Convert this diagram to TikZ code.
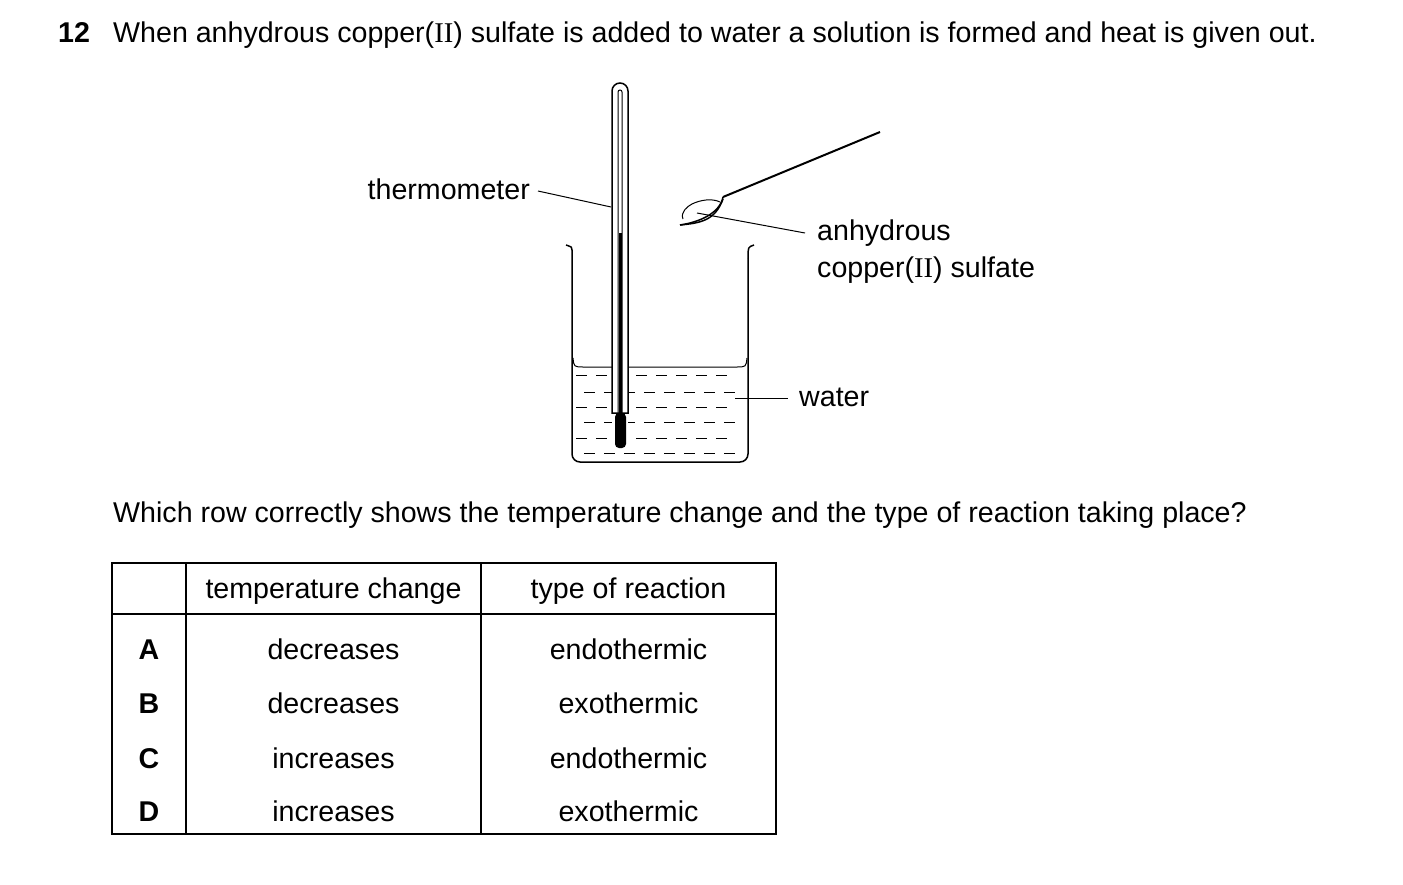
\documentclass[tikz,border=0pt]{standalone}
\usepackage{fontspec}
\setmainfont{Liberation Sans}
\newfontfamily\rom{Liberation Serif}
\newcommand{\RII}{{\rom II}}
\begin{document}
\begin{tikzpicture}[x=1pt,y=-1pt,
  txt/.style={inner sep=0pt,font=\fontsize{28.6}{32}\selectfont},
  ln/.style={line width=1.5pt},
  thin/.style={line width=1pt}]
\useasboundingbox (0,0) rectangle (1403,884);
% title
\node[txt,anchor=base west,font=\fontsize{28.6}{32}\selectfont\bfseries] (num) at (58,42) {12};
\node[txt,anchor=base west] (q) at (113,42) {When anhydrous copper(\RII) sulfate is added to water a solution is formed and heat is given out.};
% beaker
\draw[ln,rounded corners=8pt] (566,245) .. controls (572,247) .. (572,258) -- (572,462) -- (748,462) -- (748,258);
\draw[ln] (748,258) .. controls (748,247) .. (754,245);
% water surface
\draw[thin] (573,358) .. controls (574,367) .. (584,367) -- (736,367) .. controls (746,367) .. (747,358);
% dashes
\foreach \y/\o in {375/0,392/8,407/0,422/8,438/0,453/8}{
  \foreach \x in {576,596,616,636,656,676,696,716}{
    \pgfmathsetmacro{\xs}{\x+\o}
    \ifdim\xs pt<740pt \draw[thin] (\xs,\y) -- ++(11,0);\fi
  }
}
% thermometer
\fill[white] (612,90) -- (612,440) -- (628,440) -- (628,90) -- cycle;
\draw[ln] (612,413) -- (612,91) arc(180:360:8) -- (628,413) -- cycle;
\draw[thin] (618,413) -- (618,92) arc(180:360:2) -- (622,413);
\fill (618.5,233) rectangle (621.5,415);
\fill[rounded corners=4pt] (615,413) rectangle (626,448);
% spatula
\draw[line width=2pt] (723,197) -- (880,132);
\draw[ln] (723,197) .. controls (720,213) and (700,222) .. (680,225);
\draw[ln] (680,225) .. controls (700,223) and (715,221) .. (723,199);
\draw[thin] (683,219) .. controls (680,212) and (688,206) .. (692,204) .. controls (700,200) and (712,198) .. (720,202);
% labels
\node[txt,anchor=base east] (th) at (530,199) {thermometer};
\draw[thin] (538,191) -- (611,207);
\node[txt,anchor=base west] (an) at (817,240) {anhydrous};
\node[txt,anchor=base west] (cu) at (817,277) {copper(\RII) sulfate};
\draw[thin] (697,213) -- (805,233);
\node[txt,anchor=base west] (wa) at (799,406) {water};
\draw[thin] (735,398) -- (788,398);
% question
\node[txt,anchor=base west] (q2) at (113,522) {Which row correctly shows the temperature change and the type of reaction taking place?};
% table
\draw[ln] (112,563) rectangle (776,834);
\draw[ln] (112,614) -- (776,614);
\draw[ln] (186,563) -- (186,834);
\draw[ln] (481,563) -- (481,834);
\node[txt,anchor=base] (h1) at (333.5,598) {temperature change};
\node[txt,anchor=base] (h2) at (628.5,598) {type of reaction};
\foreach \l/\t/\r/\y in {A/decreases/endothermic/659,B/decreases/exothermic/713,C/increases/endothermic/768,D/increases/exothermic/821}{
  \node[txt,anchor=base,font=\fontsize{28.6}{32}\selectfont\bfseries] at (149,\y) {\l};
  \node[txt,anchor=base] at (333.5,\y) {\t};
  \node[txt,anchor=base] at (628.5,\y) {\r};
}
\end{tikzpicture}
\end{document}
